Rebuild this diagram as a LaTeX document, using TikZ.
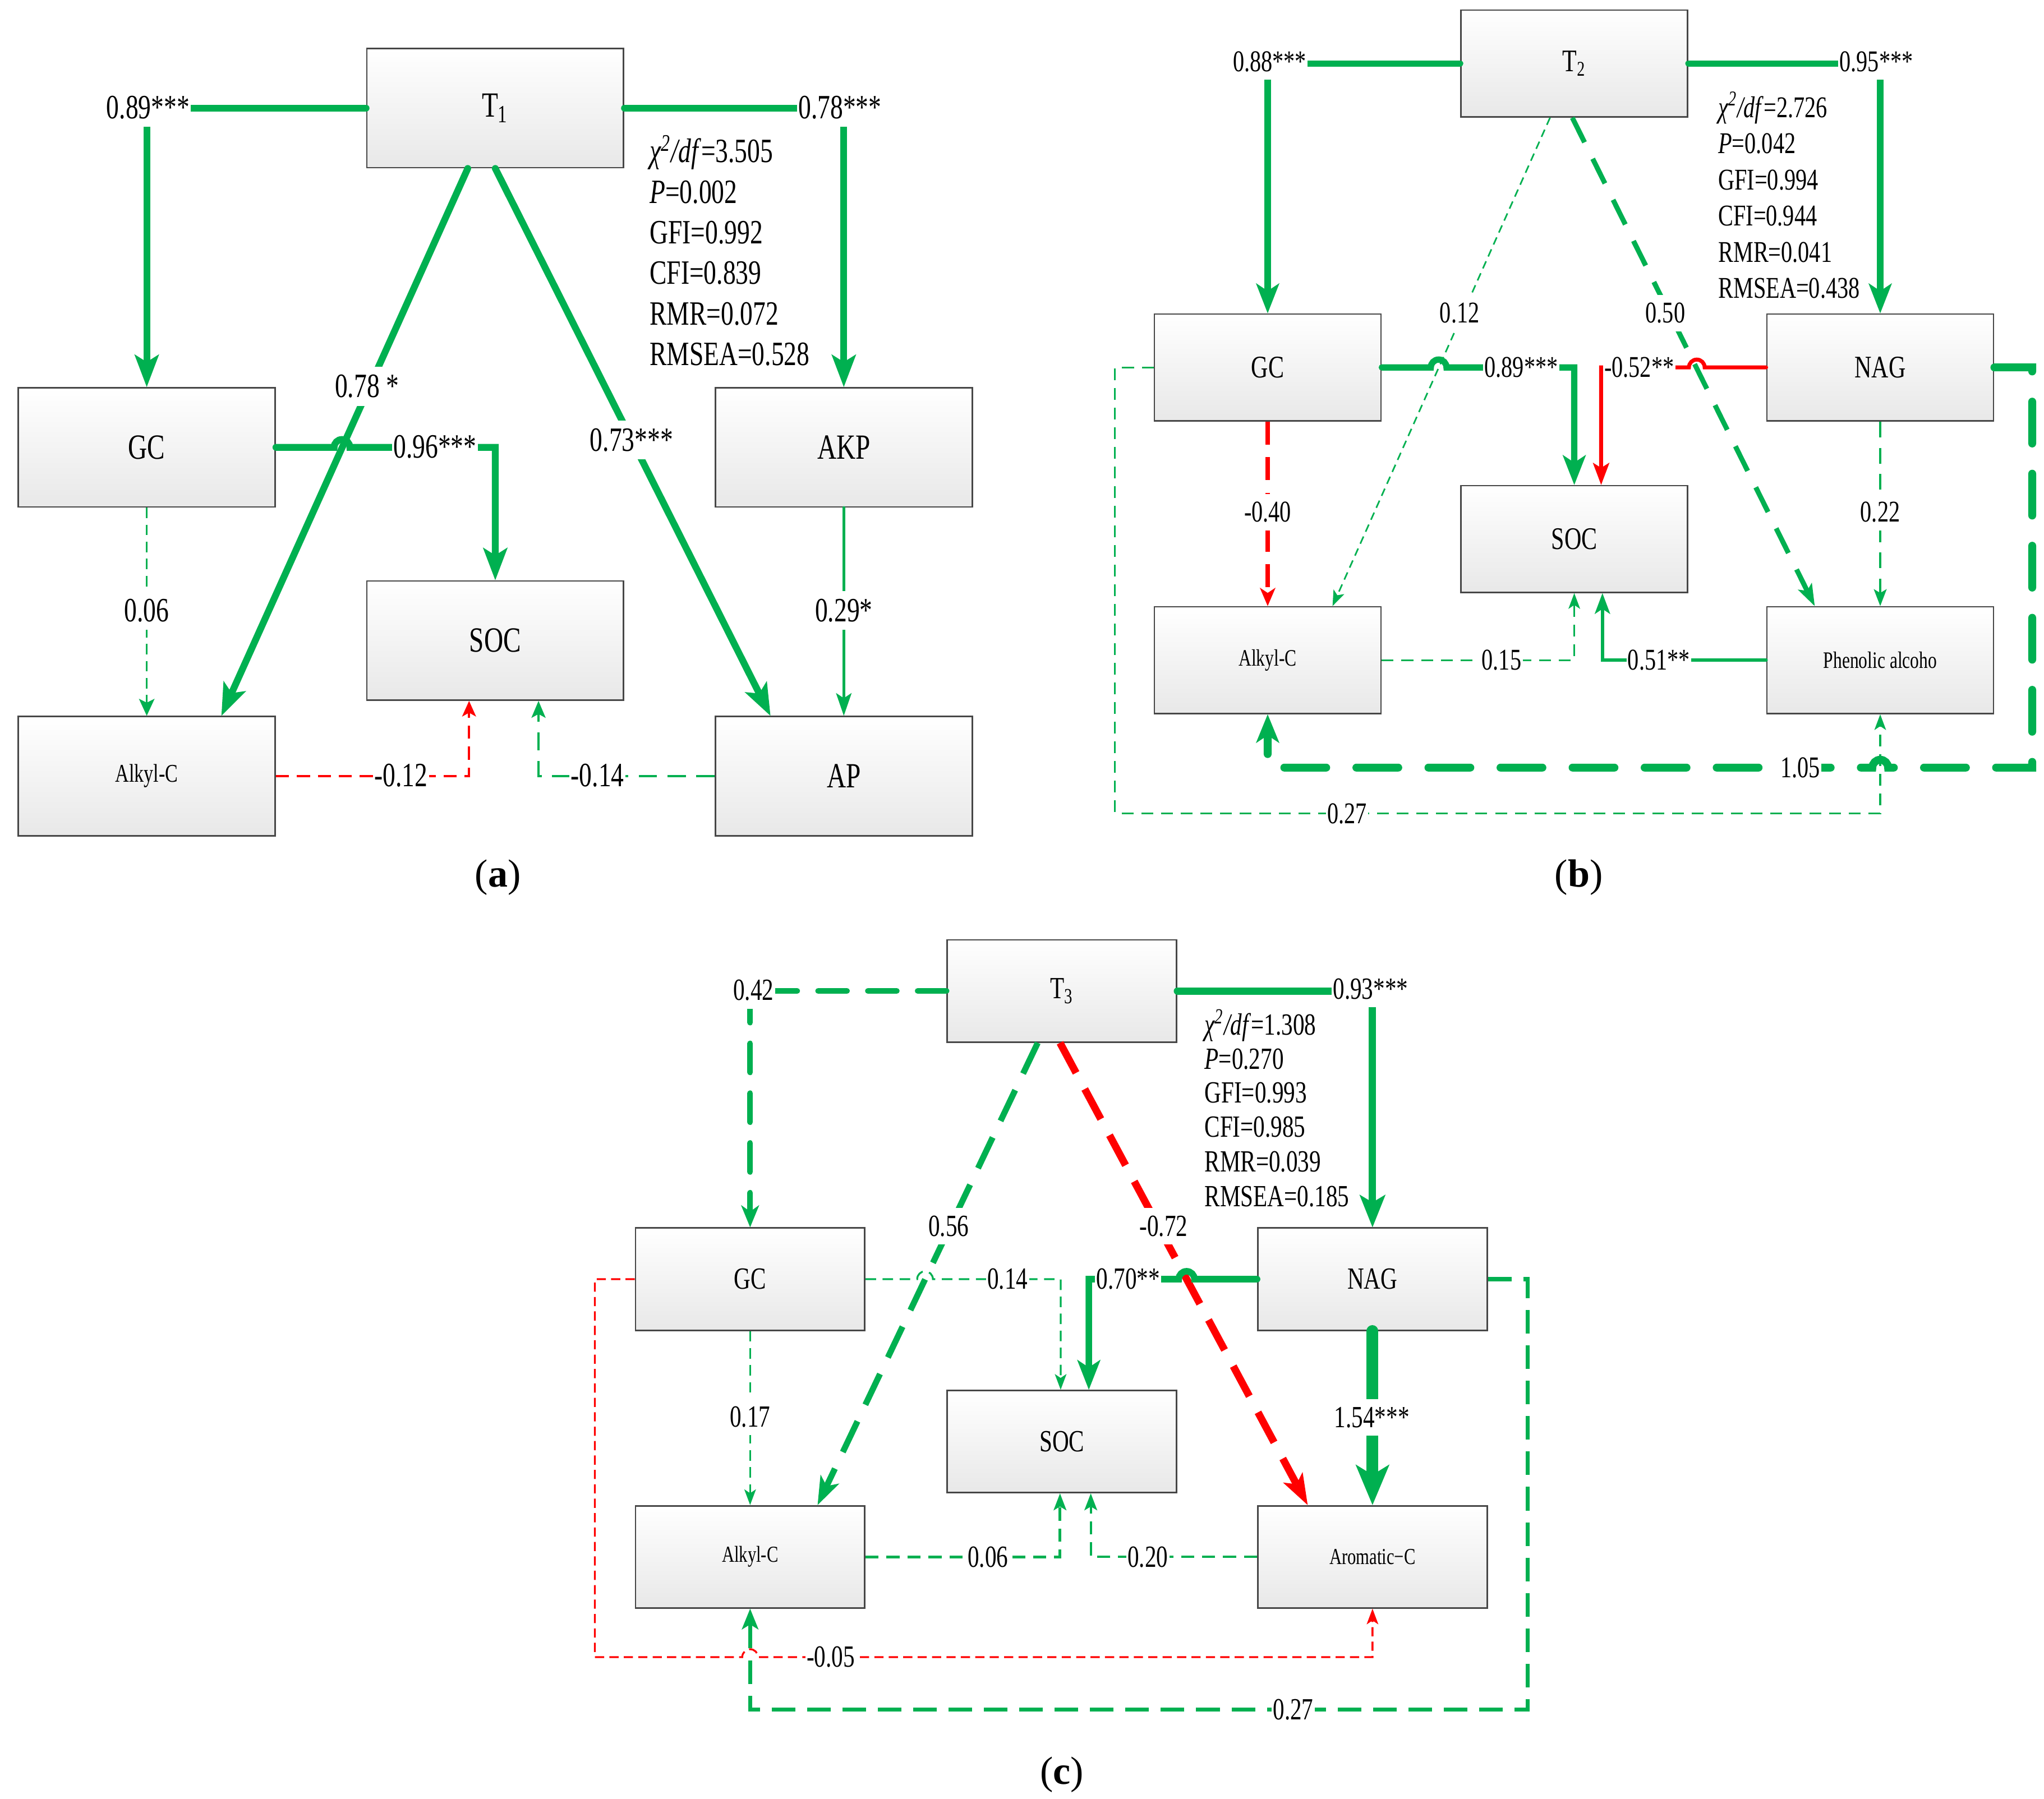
\documentclass[tikz,border=0pt]{standalone}
\usepackage{fontspec}
\setmainfont{Liberation Serif}[FakeStretch=0.75]
\newfontfamily\plainserif{Liberation Serif}
\usetikzlibrary{arrows.meta,calc}
\definecolor{sgreen}{RGB}{0,176,80}
\definecolor{sred}{RGB}{255,0,0}
\begin{document}
\begin{tikzpicture}[x=0.5pt,y=-0.5pt,
  box/.style={draw=black!72,line width=0.6pt,top color=white,bottom color=black!9,inner sep=0pt},
  boxa/.style={box,minimum width=98pt,minimum height=45.5pt,font=\fontsize{13.5}{16}\selectfont},
  boxb/.style={box,minimum width=86.5pt,minimum height=40.75pt,font=\fontsize{12}{14}\selectfont},
  boxc/.style={box,minimum width=87.5pt,minimum height=39pt,font=\fontsize{11.75}{14}\selectfont},
  sma/.style={font=\fontsize{9.75}{12}\selectfont},
  smb/.style={font=\fontsize{9}{11}\selectfont},
  smc/.style={font=\fontsize{8.75}{11}\selectfont},
  lbl/.style={fill=white,inner xsep=0.5pt,inner ysep=3pt},
  lbla/.style={lbl,font=\fontsize{13}{15}\selectfont},
  lblb/.style={lbl,font=\fontsize{11.5}{14}\selectfont},
  lblc/.style={lbl,font=\fontsize{11.75}{14}\selectfont},
  fita/.style={anchor=base west,inner sep=0pt,font=\fontsize{13}{15}\selectfont},
  fitb/.style={anchor=base west,inner sep=0pt,font=\fontsize{11.5}{14}\selectfont},
  fitc/.style={anchor=base west,inner sep=0pt,font=\fontsize{11.75}{14}\selectfont},
  panel/.style={font=\plainserif\fontsize{15}{18}\selectfont},
  tp/.style n args={3}{-{Stealth[length=#1,width=#2,inset=#3,line width=0pt]}},
  sol/.style={line cap=round,line join=miter},
]
\fill[white] (0,0) rectangle (1560,1373.3);
\useasboundingbox (0,0) rectangle (1560,1373.3);

% ---------------- panel (a) ----------------
\node[boxa] (T1a) at (378,82.5) {T\textsubscript{1}};
\node[boxa] (GCa) at (112,341.5) {GC};
\node[boxa] (SOCa) at (378,489) {SOC};
\node[boxa,sma] (Alkya) at (112,592.5) {Alkyl-C};
\node[boxa] (AKPa) at (644,341.5) {AKP};
\node[boxa] (APa) at (644,592.5) {AP};
\coordinate (hA) at (261,341.5);

\draw[sgreen,sol,line width=2.6pt,tp={12.5pt}{9.5pt}{3pt}] (T1a.west) -| (GCa.north);
\draw[sgreen,sol,line width=2.6pt,tp={12.5pt}{9.5pt}{3pt}] (T1a.east) -| (AKPa.north);
\draw[sgreen,sol,line width=2.6pt,tp={12.5pt}{9.5pt}{3pt}] ($(T1a.south)+(-21,0)$) -- ($(Alkya.north)+(57,0)$);
\draw[sgreen,sol,line width=2.6pt,tp={12.5pt}{9.5pt}{3pt}] (T1a.south) -- ($(APa.north)+(-56,0)$);
\draw[sgreen,sol,line width=2.6pt,tp={12.5pt}{9.5pt}{3pt}] (GCa.east) -- ($(hA)+(-6,0)$) arc[start angle=180,end angle=0,radius=3pt] -| (SOCa.north);
\draw[sgreen,line width=0.75pt,dash pattern=on 4pt off 2.5pt,tp={6.5pt}{6pt}{1.5pt}] (GCa.south) -- (Alkya.north);
\draw[sgreen,sol,line width=1.2pt,tp={8.7pt}{6pt}{2pt}] (AKPa.south) -- (APa.north);
\draw[sred,line width=0.8pt,dash pattern=on 5pt off 3pt,tp={6pt}{5.4pt}{1.5pt}] (Alkya.east) -| ($(SOCa.south)+(-20,0)$);
\draw[sgreen,line width=1pt,dash pattern=on 7pt off 4pt,tp={6.5pt}{5.5pt}{1.5pt}] (APa.west) -| ($(SOCa.south)+(33,0)$);

\node[lbla] (la1) at (113,82) {0.89***};
\node[lbla] (la2) at (641,82) {0.78***};
\node[lbla] (la3) at (280,295) {0.78 *};
\node[lbla] (la4) at (482,336) {0.73***};
\node[lbla] (la5) at (332,341) {0.96***};
\node[lbla] (la6) at (112,466) {0.06};
\node[lbla] (la7) at (644,466) {0.29*};
\node[lbla] (la8) at (306,592) {-0.12};
\node[lbla] (la9) at (456,592) {-0.14};

\node[fita] (fa1) at (495.5,124) {\textit{χ\textsuperscript{2}/df}=3.505};
\node[fita] (fa2) at (495.5,155) {\textit{P}=0.002};
\node[fita] (fa3) at (495.5,186) {GFI=0.992};
\node[fita] (fa4) at (495.5,217) {CFI=0.839};
\node[fita] (fa5) at (495.5,248) {RMR=0.072};
\node[fita] (fa6) at (495.5,279) {RMSEA=0.528};
\node[panel] (pa) at (380,670) {(\textbf{a})};

% ---------------- panel (b) ----------------
\node[boxb] (T2b) at (1201.5,48.5) {T\textsubscript{2}};
\node[boxb] (GCb) at (967.5,280.5) {GC};
\node[boxb] (NAGb) at (1435,280.5) {NAG};
\node[boxb] (SOCb) at (1201.5,411.5) {SOC};
\node[boxb,smb] (Alkyb) at (967.5,504) {Alkyl-C};
\node[boxb,smb] (Phenb) at (1435,504) {Phenolic alcoho};
\coordinate (hB1) at (1098,280.5);
\coordinate (hB2) at (1295,280.5);
\coordinate (hB3) at (1435,586);
\coordinate (cB1) at (1551,586);
\coordinate (cB2) at (851,621);

\draw[sgreen,sol,line width=2.4pt,tp={11.5pt}{9pt}{3pt}] (T2b.west) -| (GCb.north);
\draw[sgreen,sol,line width=2.4pt,tp={11.5pt}{9pt}{3pt}] (T2b.east) -| (NAGb.north);
\draw[sgreen,line width=0.6pt,dash pattern=on 3pt off 2pt,tp={6pt}{4.5pt}{1.5pt}] ($(T2b.south)+(-18.5,0)$) -- ($(Alkyb.north)+(49.5,0)$);
\draw[sgreen,line width=1.9pt,dash pattern=on 10.5pt off 7pt,tp={8.5pt}{6pt}{2pt}] ($(T2b.south)+(-1.5,0)$) -- ($(Phenb.north)+(-50,0)$);
\draw[sgreen,sol,line width=2.4pt,tp={11.5pt}{9pt}{3pt}] (GCb.east) -- ($(hB1)+(-6,0)$) arc[start angle=180,end angle=0,radius=3pt] -| (SOCb.north);
\draw[sred,sol,line width=1.5pt,tp={8.5pt}{6.4pt}{2pt}] (NAGb.west) -- ($(hB2)+(6,0)$) arc[start angle=0,end angle=180,radius=3pt] -| ($(SOCb.north)+(20.5,0)$);
\draw[sred,line width=1.5pt,dash pattern=on 8.8pt off 4.8pt,tp={7pt}{6pt}{2pt}] (GCb.south) -- (Alkyb.north);
\draw[sgreen,line width=0.8pt,dash pattern=on 6pt off 4pt,tp={6.5pt}{5pt}{1.5pt}] (NAGb.south) -- (Phenb.north);
\draw[sgreen,line width=0.7pt,dash pattern=on 4.5pt off 3pt,tp={6pt}{4.5pt}{1.5pt}] (Alkyb.east) -| (SOCb.south);
\draw[sgreen,sol,line width=1.3pt,tp={8pt}{6pt}{2pt}] (Phenb.west) -| ($(SOCb.south)+(21.5,0)$);
\draw[sgreen,line cap=round,line width=3pt,dash pattern=on 16pt off 11.5pt,tp={11pt}{9pt}{3pt}] (NAGb.east) -| (cB1) -- ($(hB3)+(6,0)$) arc[start angle=0,end angle=180,radius=3pt] -| (Alkyb.south);
\draw[sgreen,line width=0.7pt,dash pattern=on 4.5pt off 3pt,tp={6pt}{4.5pt}{1.5pt}] (GCb.west) -| (cB2) -| (Phenb.south);

\node[lblb] (lb1) at (969,47) {0.88***};
\node[lblb] (lb2) at (1432,47) {0.95***};
\node[lblb] (lb3) at (1114,239) {0.12};
\node[lblb] (lb4) at (1271,239) {0.50};
\node[lblb] (lb5) at (1161,280.5) {0.89***};
\node[lblb] (lb6) at (1251,280.5) {-0.52**};
\node[lblb] (lb7) at (967.5,391) {-0.40};
\node[lblb] (lb8) at (1435,391) {0.22};
\node[lblb] (lb9) at (1146,504) {0.15};
\node[lblb] (lb10) at (1266,504) {0.51**};
\node[lblb] (lb11) at (1374,586) {1.05};
\node[lblb] (lb12) at (1028,621) {0.27};

\node[fitb] (fb1) at (1311,89.5) {\textit{χ\textsuperscript{2}/df}=2.726};
\node[fitb] (fb2) at (1311,117) {\textit{P}=0.042};
\node[fitb] (fb3) at (1311,145) {GFI=0.994};
\node[fitb] (fb4) at (1311,172.5) {CFI=0.944};
\node[fitb] (fb5) at (1311,200) {RMR=0.041};
\node[fitb] (fb6) at (1311,227.5) {RMSEA=0.438};
\node[panel] (pb) at (1205,670) {(\textbf{b})};

% ---------------- panel (c) ----------------
\node[boxc] (T3c) at (810.5,756.5) {T\textsubscript{3}};
\node[boxc] (GCc) at (572.5,976.5) {GC};
\node[boxc] (NAGc) at (1047.5,976.5) {NAG};
\node[boxc] (SOCc) at (810.5,1100.5) {SOC};
\node[boxc,smc] (Alkyc) at (572.5,1188.5) {Alkyl-C};
\node[boxc,smc] (Aromc) at (1047.5,1188.5) {Aromatic−C};
\coordinate (hC1) at (706,976.5);
\coordinate (hC2) at (905.6,976.5);
\coordinate (hC3) at (572.5,1265);
\coordinate (cC1) at (454,1265);
\coordinate (cC2) at (1166,1305);

\draw[sgreen,line cap=round,line width=2.2pt,dash pattern=on 11pt off 8pt,tp={8.5pt}{7pt}{2.5pt}] (T3c.west) -| (GCc.north);
\draw[sgreen,sol,line width=2.8pt,tp={12.5pt}{10pt}{3pt}] (T3c.east) -| (NAGc.north);
\draw[sgreen,line width=2.3pt,dash pattern=on 13pt off 7pt,tp={11pt}{8pt}{3pt}] ($(T3c.south)+(-18.5,0)$) -- ($(Alkyc.north)+(51.5,0)$);
\draw[sred,line width=2.8pt,dash pattern=on 13pt off 7pt,tp={12pt}{8.5pt}{3pt}] ($(T3c.south)+(-1.5,0)$) -- ($(Aromc.north)+(-49.5,0)$);
\draw[sgreen,line width=0.7pt,dash pattern=on 4pt off 2.5pt,tp={6pt}{4.5pt}{1.5pt}] (GCc.east) -- ($(hC1)+(-6,0)$) arc[start angle=180,end angle=0,radius=3pt] -| ($(SOCc.north)+(-1,0)$);
\draw[sgreen,sol,line width=2.5pt,tp={11.5pt}{9pt}{3pt}] (NAGc.west) -- ($(hC2)+(6,0)$) arc[start angle=0,end angle=180,radius=3pt] -| ($(SOCc.north)+(20.5,0)$);
\draw[sgreen,line width=0.6pt,dash pattern=on 4pt off 2.5pt,tp={6pt}{4.5pt}{1.5pt}] (GCc.south) -- (Alkyc.north);
\draw[sgreen,sol,line width=4.5pt,tp={15.5pt}{13pt}{4pt}] (NAGc.south) -- (Aromc.north);
\draw[sgreen,line width=1pt,dash pattern=on 5pt off 3pt,tp={6.5pt}{5pt}{1.5pt}] (Alkyc.east) -| ($(SOCc.south)+(-1.5,0)$);
\draw[sgreen,line width=0.9pt,dash pattern=on 5pt off 3pt,tp={6.5pt}{5pt}{1.5pt}] (Aromc.west) -| ($(SOCc.south)+(22,0)$);
\draw[sred,line width=0.7pt,dash pattern=on 3.5pt off 2pt,tp={6pt}{4.5pt}{1.5pt}] (GCc.west) -| (cC1) -- ($(hC3)+(-6,0)$) arc[start angle=180,end angle=0,radius=3pt] -| (Aromc.south);
\draw[sgreen,line width=1.6pt,dash pattern=on 9pt off 4.5pt,tp={8pt}{6.5pt}{2pt}] (NAGc.east) -| (cC2) -| (Alkyc.south);

\node[lblc] (lc1) at (575,756) {0.42};
\node[lblc] (lc2) at (1046,755) {0.93***};
\node[lblc] (lc3) at (724,936) {0.56};
\node[lblc] (lc4) at (888,936) {-0.72};
\node[lblc] (lc5) at (769,976.5) {0.14};
\node[lblc] (lc6) at (861,976.5) {0.70**};
\node[lblc] (lc7) at (572.5,1081.5) {0.17};
\node[lblc] (lc8) at (1047,1082) {1.54***};
\node[lblc] (lc9) at (754,1188.5) {0.06};
\node[lblc] (lc10) at (876,1188.5) {0.20};
\node[lblc] (lc11) at (634,1265) {-0.05};
\node[lblc] (lc12) at (987,1305) {0.27};

\node[fitc] (fc1) at (919,790) {\textit{χ\textsuperscript{2}/df}=1.308};
\node[fitc] (fc2) at (919,816) {\textit{P}=0.270};
\node[fitc] (fc3) at (919,842) {GFI=0.993};
\node[fitc] (fc4) at (919,868) {CFI=0.985};
\node[fitc] (fc5) at (919,894.5) {RMR=0.039};
\node[fitc] (fc6) at (919,921) {RMSEA=0.185};
\node[panel] (pc) at (810.5,1355) {(\textbf{c})};
\end{tikzpicture}
\end{document}
